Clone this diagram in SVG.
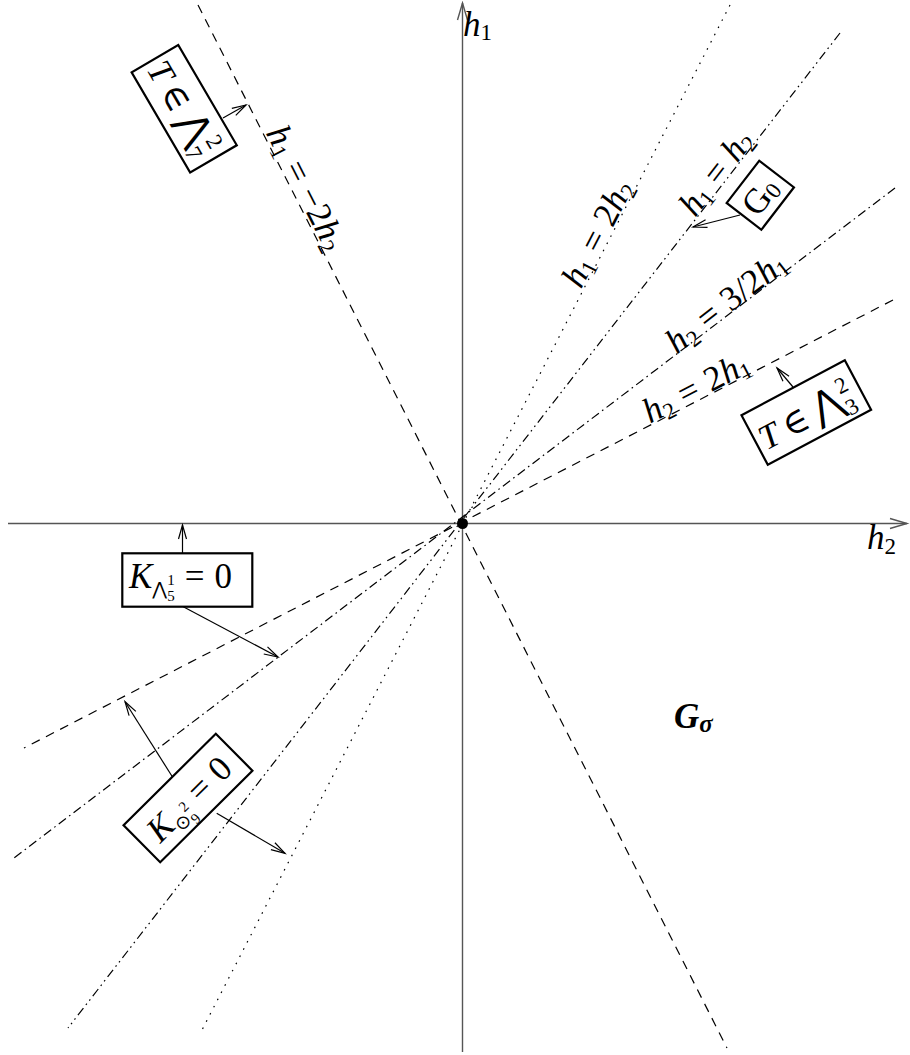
<svg xmlns="http://www.w3.org/2000/svg" width="910" height="1055" viewBox="0 0 910 1055">
<style>
.t{font-family:"Liberation Serif","DejaVu Serif",serif;font-size:35px;fill:#000}
.i{font-style:italic}
.s{font-size:23px}
.ds{font-family:"DejaVu Sans",sans-serif}
.ln{fill:none;stroke:#000;stroke-width:1.2}
.ax{fill:none;stroke:#555;stroke-width:1.4}
.box{fill:#fff;stroke:#000;stroke-width:2.2}
.ar{fill:none;stroke:#000;stroke-width:1.2}
</style>
<defs>
<marker id="ah" markerUnits="userSpaceOnUse" markerWidth="20" markerHeight="12" viewBox="-16 -6 18 12" refX="0" refY="0" orient="auto">
<path d="M-14,-4 L0,0 L-14,4" fill="none" stroke="#000" stroke-width="1.2"/>
</marker>
<marker id="axh" markerUnits="userSpaceOnUse" markerWidth="22" markerHeight="14" viewBox="-19 -7 21 14" refX="0" refY="0" orient="auto">
<path d="M-17,-5 L0,0 L-17,5" fill="none" stroke="#555" stroke-width="1.4"/>
</marker>
</defs>
<rect width="910" height="1055" fill="#fff"/>
<g id="axes">
<path class="ax" d="M462.5,1052 L462.5,3" marker-end="url(#axh)"/>
<path class="ax" d="M8,523.5 L907,523.5" marker-end="url(#axh)"/>
<text class="t" x="463" y="36"><tspan class="i">h</tspan><tspan class="s" dy="4">1</tspan></text>
<text class="t" x="867" y="549"><tspan class="i">h</tspan><tspan class="s" dy="5">2</tspan></text>
</g>
<g id="connectors">
<path class="ln" d="M198,5 L727,1048" stroke-dasharray="9 7"/>
<path class="ln" d="M730,5 L202,1030" stroke-dasharray="1.6 6.5"/>
<path class="ln" d="M840,33 L68,1028" stroke-dasharray="9 4 1.6 4 1.6 4"/>
<path class="ln" d="M895,188 L14,858" stroke-dasharray="9 4 1.6 4"/>
<path class="ln" d="M893,300 L24,748" stroke-dasharray="9 7"/>
<path class="ar" d="M223,118 L246,105" marker-end="url(#ah)"/>
<path class="ar" d="M740,215 L693,227" marker-end="url(#ah)"/>
<path class="ar" d="M793,387 L777,368" marker-end="url(#ah)"/>
<path class="ar" d="M182.5,553 L182.5,525" marker-end="url(#ah)"/>
<path class="ar" d="M183.3,606.7 L278,657" marker-end="url(#ah)"/>
<path class="ar" d="M173.3,778.3 L125,701.7" marker-end="url(#ah)"/>
<path class="ar" d="M216.7,813.3 L285,853.3" marker-end="url(#ah)"/>
</g>
<g id="line-labels">
<text class="t" text-anchor="middle" transform="translate(294.3,193.9) rotate(63)" y="-2"><tspan class="i">h</tspan><tspan class="s" dy="5">1</tspan><tspan dx="10" dy="-5">=</tspan><tspan dx="10">−2</tspan><tspan class="i">h</tspan><tspan class="s" dy="5">2</tspan></text>
<text class="t" text-anchor="middle" transform="translate(609.2,239.1) rotate(-62.7)" y="-2"><tspan class="i">h</tspan><tspan class="s" dy="5">1</tspan><tspan dx="10" dy="-5">=</tspan><tspan dx="10">2</tspan><tspan class="i">h</tspan><tspan class="s" dy="5">2</tspan></text>
<text class="t" text-anchor="middle" transform="translate(726.6,180.5) rotate(-52.4)" y="-2"><tspan class="i">h</tspan><tspan class="s" dy="5">1</tspan><tspan dx="10" dy="-5">=</tspan><tspan dx="10" class="i">h</tspan><tspan class="s" dy="5">2</tspan></text>
<text class="t" text-anchor="middle" transform="translate(734.3,312.6) rotate(-37.8)" y="-2"><tspan class="i">h</tspan><tspan class="s" dy="5">2</tspan><tspan dx="10" dy="-5">=</tspan><tspan dx="10">3/2</tspan><tspan class="i">h</tspan><tspan class="s" dy="5">1</tspan></text>
<text class="t" text-anchor="middle" transform="translate(702.2,399.1) rotate(-27.4)" y="-2"><tspan class="i">h</tspan><tspan class="s" dy="5">2</tspan><tspan dx="10" dy="-5">=</tspan><tspan dx="10">2</tspan><tspan class="i">h</tspan><tspan class="s" dy="5">1</tspan></text>
</g>
<g id="origin"><circle cx="462.5" cy="523.5" r="5.5" fill="#000"/></g>
<g id="box-T7" transform="translate(184.2,108.8) rotate(59.7)">
<rect class="box" x="-58" y="-27" width="116" height="54"/>
<text class="t" text-anchor="middle" x="-2" y="13"><tspan class="i">T</tspan><tspan dx="7">∈</tspan><tspan dx="7" class="ds" font-size="39">⋀</tspan><tspan class="s" dy="-15">2</tspan><tspan class="s" dx="-12" dy="24">7</tspan></text>
</g>
<g id="box-G0" transform="translate(760.3,195.2) rotate(-52.4)">
<rect class="box" x="-26.7" y="-21.9" width="53.4" height="43.8"/>
<text class="t" text-anchor="middle" x="-1" y="12">G<tspan class="s" dy="3">0</tspan></text>
</g>
<g id="box-T3" transform="translate(806.3,412.5) rotate(-28)">
<rect class="box" x="-58.5" y="-28" width="117" height="56"/>
<text class="t" text-anchor="middle" x="-2" y="15"><tspan class="i">T</tspan><tspan dx="7">∈</tspan><tspan dx="7" class="ds" font-size="39">⋀</tspan><tspan class="s" dy="-15">2</tspan><tspan class="s" dx="-12" dy="24">3</tspan></text>
</g>
<g id="box-K5">
<rect class="box" x="122.3" y="553.3" width="130" height="53.4"/>
<text class="t" x="129" y="588"><tspan class="i">K</tspan><tspan class="ds" font-size="18" dy="7">⋀</tspan><tspan font-size="15" dy="-10">1</tspan><tspan font-size="15" dx="-7.5" dy="16">5</tspan><tspan dx="10" dy="-13">=</tspan><tspan dx="10">0</tspan></text>
</g>
<g id="box-K9" transform="translate(188,798) rotate(-44.8)">
<rect class="box" x="-65" y="-26" width="130" height="52"/>
<text class="t" text-anchor="middle" x="0" y="13"><tspan class="i">K</tspan><tspan class="ds" font-size="19" dy="7">⊙</tspan><tspan font-size="15" dy="-12">2</tspan><tspan font-size="15" dx="-7.5" dy="17">9</tspan><tspan dx="10" dy="-12">=</tspan><tspan dx="10">0</tspan></text>
</g>
<g id="label-Gsigma">
<text class="t" x="674" y="728" font-weight="bold" font-style="italic" font-size="37">G<tspan font-size="25" dy="4">σ</tspan></text>
</g>
</svg>
